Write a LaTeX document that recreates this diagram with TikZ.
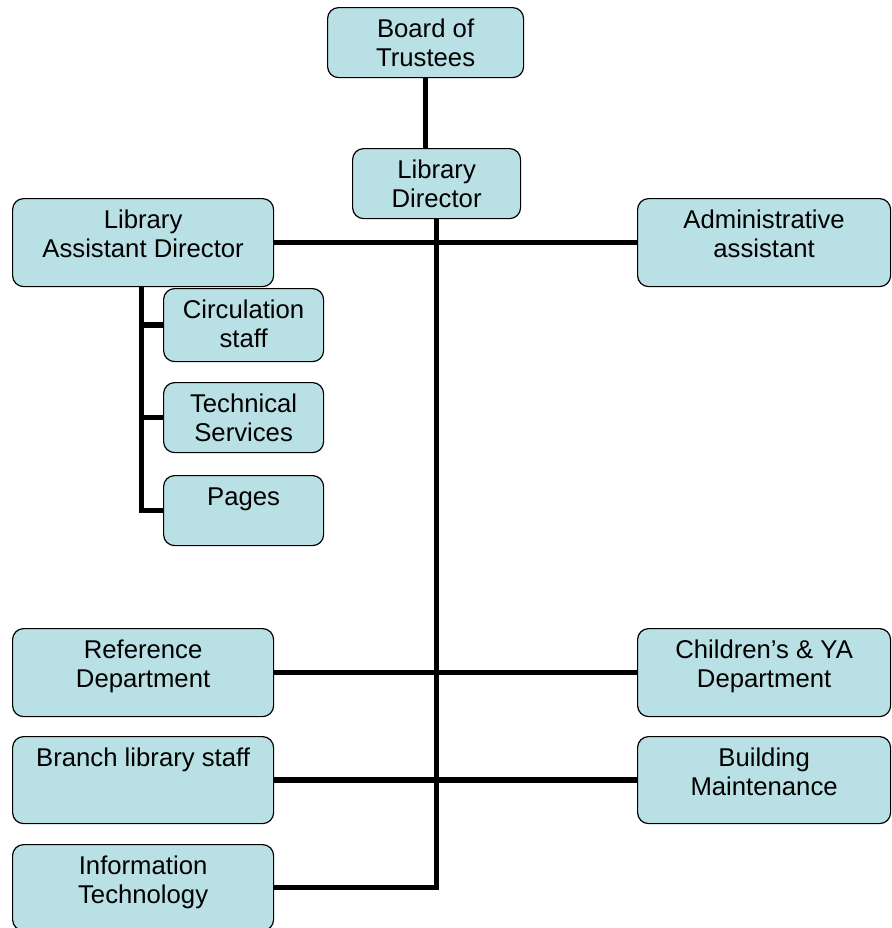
\documentclass[tikz,border=0pt]{standalone}
\usepackage{fontspec}
\setmainfont{Liberation Sans}
\usetikzlibrary{arrows}
\usetikzlibrary{calc}
\definecolor{orgfill}{RGB}{185,224,228}
\newcommand{\boxtext}[3]{\parbox[b][#2bp][t]{#1bp}{\centering\rule{0pt}{30bp}#3}}

\begin{document}
\begin{tikzpicture}[x=1bp,y=-1bp,inner sep=0pt,font=\fontsize{25.7bp}{29bp}\selectfont,
  orgbox/.style={draw=black,line width=1.2bp,fill=orgfill,rounded corners=11bp,anchor=north west},
  orgline/.style={line width=5.5bp}]
\useasboundingbox (0,0) rectangle (892,928);
\draw node [orgbox] at (327,7)   (brd) {\boxtext{196}{70}{Board of\\Trustees}};
\draw node [orgbox] at (352,148) (dir) {\boxtext{168}{70}{Library\\Director}};
\draw node [orgbox] at (12,198)  (ast) {\boxtext{261}{88}{Library\\Assistant Director}};
\draw node [orgbox] at (637,198) (adm) {\boxtext{253}{88}{Administrative\\assistant}};
\draw node [orgbox] at (163,288) (cir) {\boxtext{160}{73}{Circulation\\staff}};
\draw node [orgbox] at (163,382) (tec) {\boxtext{160}{70}{Technical\\Services}};
\draw node [orgbox] at (163,475) (pag) {\boxtext{160}{70}{Pages}};
\draw node [orgbox] at (12,628)  (ref) {\boxtext{261}{88}{Reference\\Department}};
\draw node [orgbox] at (637,628) (chl) {\boxtext{253}{88}{Children’s \& YA\\Department}};
\draw node [orgbox] at (12,736)  (brn) {\boxtext{261}{87}{Branch library staff}};
\draw node [orgbox] at (637,736) (bld) {\boxtext{253}{87}{Building\\Maintenance}};
\draw node [orgbox] at (12,844)  (inf) {\boxtext{261}{86}{Information\\Technology}};
% connectors
\coordinate (sub) at (141.5,286);
\draw [orgline] (brd.south) -- (brd.south |- dir.north);
\draw [orgline] (dir.south) |- (inf.east);
\draw [orgline] (ast.east) -- (adm.west);
\draw [orgline] (ref.east) -- (chl.west);
\draw [orgline] (brn.east) -- (bld.west);
\draw [orgline] (sub) |- (pag.west);
\draw [orgline] (sub |- cir.west) -- (cir.west);
\draw [orgline] (sub |- tec.west) -- (tec.west);
\end{tikzpicture}
\end{document}
